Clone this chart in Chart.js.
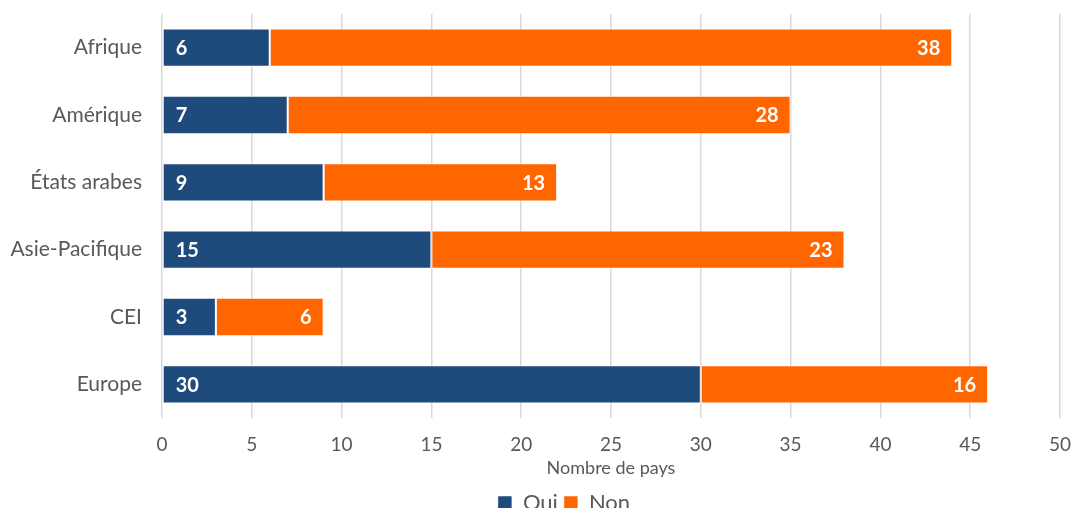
<!DOCTYPE html>
<html lang="fr">
<head>
<meta charset="UTF-8">
<title>Nombre de pays par région</title>
<script src="https://cdn.jsdelivr.net/npm/chart.js"></script>
<style>
    body { margin: 0; background: #fff; overflow: hidden; }
    #wrap { width: 1075px; height: 508px; overflow: hidden; }
</style>
</head>
<body>
<div id="wrap"><canvas id="chart" width="1075" height="526"></canvas></div>
<script>
    const regions = ['Afrique', 'Amérique', 'États arabes', 'Asie-Pacifique', 'CEI', 'Europe'];
    const oui = [6, 7, 9, 15, 3, 30];
    const non = [38, 28, 13, 23, 6, 16];
    const xTicks = [0, 5, 10, 15, 20, 25, 30, 35, 40, 45, 50];

    const grey = '#595959';
    const fontFamily = 'Lato, "Open Sans", sans-serif';

    // white values inside the bars: Oui at the left, Non at the right end
    const barLabels = {
        id: 'barLabels',
        afterLayout(chart) {
            // legend sits a bit right of the canvas centre
            const lg = chart.legend;
            lg.left += 68;
            lg.top -= 2;
            lg.bottom -= 2;
        },
        afterDatasetsDraw(chart) {
            const ctx = chart.ctx;
            ctx.save();
            ctx.font = 'bold 20px ' + fontFamily;
            ctx.fillStyle = '#fff';
            ctx.textBaseline = 'middle';
            chart.data.datasets.forEach((ds, i) => {
                const meta = chart.getDatasetMeta(i);
                meta.data.forEach((bar, j) => {
                    const v = ds.data[j];
                    if (i === 0) {
                        ctx.textAlign = 'left';
                        ctx.fillText(v, bar.base + 13, bar.y + 1);
                    } else {
                        ctx.textAlign = 'right';
                        ctx.fillText(v, bar.x - 12, bar.y + 1);
                    }
                });
            });
            ctx.restore();
        }
    };

    new Chart(document.getElementById('chart'), {
        type: 'bar',
        data: {
            labels: regions,
            datasets: [
                { label: 'Oui', data: oui, backgroundColor: '#1f4a7c', borderColor: 'rgba(255,255,255,0.5)', borderWidth: 1, borderSkipped: false },
                { label: 'Non', data: non, backgroundColor: '#ff6600', borderColor: 'rgba(255,255,255,0.5)', borderWidth: 1, borderSkipped: false }
            ]
        },
        options: {
            indexAxis: 'y',
            responsive: false,
            animation: false,
            layout: { padding: { left: 0, right: 15, top: 14, bottom: 0 } },
            datasets: { bar: { barPercentage: 0.57, categoryPercentage: 1 } },
            scales: {
                x: {
                    stacked: true,
                    min: 0,
                    max: 50,
                    afterBuildTicks(scale) { scale.ticks = xTicks.map(v => ({ value: v })); },
                    afterFit(scale) {
                        scale.height = 70;
                        scale.paddingLeft = 0;
                        scale.paddingRight = 0;
                    },
                    grid: { color: '#d9d9d9', lineWidth: 1.5, drawTicks: false },
                    border: { display: false },
                    ticks: { color: grey, padding: 15, font: { family: fontFamily, size: 19 } },
                    title: { display: true, text: 'Nombre de pays', color: grey, padding: { top: 2, bottom: 9 }, font: { family: fontFamily, size: 18 } }
                },
                y: {
                    stacked: true,
                    afterFit(scale) {
                        scale.width = 162;
                        scale.paddingTop = 0;
                        scale.paddingBottom = 0;
                    },
                    grid: { display: false, drawTicks: false },
                    border: { display: false },
                    ticks: { color: grey, padding: 20, font: { family: fontFamily, size: 21 } }
                }
            },
            plugins: {
                legend: {
                    position: 'bottom',
                    labels: { color: grey, boxWidth: 14, boxHeight: 14, padding: 6, font: { family: fontFamily, size: 22 } }
                },
                tooltip: { enabled: false }
            }
        },
        plugins: [barLabels]
    });
</script>
</body>
</html>
